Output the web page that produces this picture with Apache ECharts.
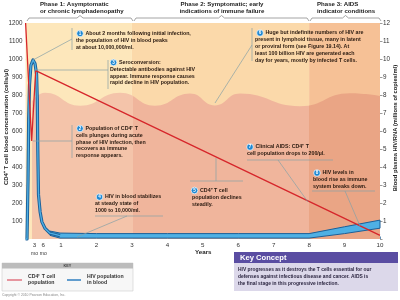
<!DOCTYPE html>
<html lang="en">
<head>
    <meta charset="utf-8">
    <title>HIV infection course</title>
    <script src="https://cdn.jsdelivr.net/npm/echarts/dist/echarts.min.js"></script>
    <style>
        html, body { margin: 0; padding: 0; background: #fff; }
        #chart { width: 400px; height: 300px; }
    </style>
</head>
<body>
<div id="chart"></div>
<script>
    // ---- data ----
    // CD4+ T cells (cells/µl), x in years
    var cd4Years = [0, 0.17, 0.285, 10];
    var cd4Count = [1200, 545, 935, 20];

    // HIV in blood (millions of copies/ml): upper and lower edge of the drawn band
    var hivYears = [0, 0.04, 0.068, 0.087, 0.11, 0.15, 0.21, 0.265, 0.31, 0.33, 0.344, 0.364, 0.41, 0.46, 0.55, 0.69, 0.97, 2, 4, 6, 8, 9, 10];
    var hivUpper = [0, 0, 3.3, 6.7, 8.6, 9.7, 10, 9.8, 9.2, 7.8, 5, 2.5, 1.55, 1.0, 0.67, 0.44, 0.33, 0.3, 0.3, 0.3, 0.3, 0.68, 1.05];
    var hivLower = [0, 0, 3.2, 6.6, 8.5, 9.6, 9.9, 9.7, 9.1, 7.7, 4.9, 2.4, 1.45, 0.9, 0.5, 0.2, 0.05, 0.05, 0.05, 0.05, 0.05, 0.3, 0.6];
    var humpEnd = 16;    // points up to here are the acute-phase peak

    // wavy lymphoid-tissue region (in cells/µl units of left axis)
    var waveYears = [0.18, 0.55, 1.54, 2.67, 3.65, 4.64, 5.34, 6.05, 7.74, 9.15, 10];
    var waveLevel = [765, 812, 740, 812, 740, 808, 742, 808, 738, 810, 795];

    var xTicks = [0.25, 0.5, 1, 2, 3, 4, 5, 6, 7, 8, 9, 10];
    var phases = [
        {from: 0, to: 3, upper: '#fde7bb'},
        {from: 3, to: 8, upper: '#fbd9aa'},
        {from: 8, to: 10, upper: '#f6c196'}
    ];

    function pairs(xs, ys) {
        return xs.map(function (x, i) { return [x, ys[i]]; });
    }

    var chart = echarts.init(document.getElementById('chart'));

    var ink = '#2a1a10';
    var lead = '#86a0a6';
    var fam = '"Liberation Sans", Arial, sans-serif';
    var fnt = 'bold 5.3px ' + fam;

    var notes = [
        {n: '1', bx: 80, by: 33.5, x0: 76, lines: ['About 2 months following initial infection,', 'the population of HIV in blood peaks', 'at about 10,000,000/ml.']},
        {n: '3', bx: 113.5, by: 62.5, x0: 110, lines: ['Seroconversion:', 'Detectable antibodies against HIV', 'appear. Immune response causes', 'rapid decline in HIV population.']},
        {n: '6', bx: 260, by: 33, x0: 255, lines: ['Huge but indefinite numbers of HIV are', 'present in lymphoid tissue, many in latent', 'or proviral form (see Figure 19.14). At', 'least 100 billion HIV are generated each', 'day for years, mostly by infected T cells.']},
        {n: '2', bx: 80, by: 128.5, x0: 76, lines: ['Population of CD4\u207A T', 'cells plunges during acute', 'phase of HIV infection, then', 'recovers as immune', 'response appears.']},
        {n: '4', bx: 99.5, by: 197, x0: 95, lines: ['HIV in blood stabilizes', 'at steady state of', '1000 to 10,000/ml.']},
        {n: '5', bx: 194.5, by: 190.5, x0: 192, lines: ['CD4\u207A T cell', 'population declines', 'steadily.']},
        {n: '7', bx: 250, by: 147, x0: 247, lines: ['Clinical AIDS: CD4\u207A T', 'cell population drops to 200/\u00B5l.']},
        {n: '8', bx: 317, by: 173, x0: 313, lines: ['HIV levels in', 'blood rise as immune', 'system breaks down.']}
    ];

    // leader / bracket lines of the notes
    var leaders = [
        [72, 28, 72, 50], [72, 39, 33, 60],
        [108, 60, 108, 89], [35, 70, 108, 70],
        [252, 28, 252, 61], [252, 45, 215, 103],
        [72, 125, 72, 158], [33, 141, 72, 141],
        [95, 216, 163, 216], [127, 216, 77, 237],
        [190, 181, 243, 181], [216, 158, 216, 181],
        [247, 160, 333, 160], [278, 160, 308, 202],
        [312, 191, 375, 191], [345, 191, 360, 226]
    ];

    var g = [];
    leaders.forEach(function (l) {
        g.push({type: 'line', z: 50, shape: {x1: l[0], y1: l[1], x2: l[2], y2: l[3]},
            style: {stroke: lead, lineWidth: 0.7}});
    });
    notes.forEach(function (nt) {
        g.push({type: 'circle', z: 52, shape: {cx: nt.bx, cy: nt.by, r: 3.3},
            style: {fill: '#1c87d2', stroke: '#fff', lineWidth: 0.7}});
        g.push({type: 'text', z: 53, style: {text: nt.n, x: nt.bx, y: nt.by + 0.2, fill: '#fff',
            font: 'bold 4.6px ' + fam, textAlign: 'center', textVerticalAlign: 'middle'}});
        nt.lines.forEach(function (t, i) {
            g.push({type: 'text', z: 52, style: {text: t, x: i === 0 ? nt.bx + 5.5 : nt.x0, y: nt.by + i * 6.8,
                fill: ink, font: fnt, textAlign: 'left', textVerticalAlign: 'middle'}});
        });
    });

    // phase headings and braces
    var heads = [
        {x: 40, align: 'left', lines: ['Phase 1: Asymptomatic', 'or chronic lymphadenopathy'], b: [27, 133]},
        {x: 222, align: 'center', lines: ['Phase 2: Symptomatic; early', 'indications of immune failure'], b: [134, 309]},
        {x: 317, align: 'left', lines: ['Phase 3: AIDS', 'indicator conditions'], b: [310, 381]}
    ];
    heads.forEach(function (h) {
        h.lines.forEach(function (t, i) {
            g.push({type: 'text', style: {text: t, x: h.x, y: 4.5 + i * 6.5, fill: '#222',
                font: 'bold 6.1px ' + fam, textAlign: h.align, textVerticalAlign: 'middle'}});
        });
        var a = h.b[0], b = h.b[1], m = (a + b) / 2;
        g.push({type: 'polyline', shape: {points: [[a, 21], [a + 2, 18], [m - 3, 18], [m, 15.5], [m + 3, 18], [b - 2, 18], [b, 21]]},
            style: {stroke: '#8d8d8d', lineWidth: 0.8, fill: null}});
    });

    // axis titles
    g.push({type: 'text', rotation: Math.PI / 2, x: 6, y: 127, style: {text: 'CD4\u207A T cell blood concentration (cells/\u00B5l)',
        fill: '#222', font: 'bold 6px ' + fam, textAlign: 'center', textVerticalAlign: 'middle'}});
    g.push({type: 'text', rotation: Math.PI / 2, x: 395, y: 128, style: {text: 'Blood plasma HIV/RNA (millions of copies/ml)',
        fill: '#222', font: 'bold 5.8px ' + fam, textAlign: 'center', textVerticalAlign: 'middle'}});
    g.push({type: 'text', style: {text: 'Years', x: 195, y: 252, fill: '#222',
        font: 'bold 6.2px ' + fam, textAlign: 'left', textVerticalAlign: 'middle'}});

    // key box
    g.push({type: 'rect', shape: {x: 2, y: 263, width: 131, height: 28}, style: {fill: '#f7f7f7', stroke: '#cfcfcf', lineWidth: 0.6}});
    g.push({type: 'rect', shape: {x: 2, y: 263, width: 131, height: 5.5}, style: {fill: '#bcbcbc'}});
    g.push({type: 'text', style: {text: 'KEY', x: 67.5, y: 266, fill: '#444', font: 'bold 3.8px ' + fam,
        textAlign: 'center', textVerticalAlign: 'middle'}});
    g.push({type: 'line', shape: {x1: 7, y1: 280, x2: 22, y2: 280}, style: {stroke: '#e07682', lineWidth: 1.5}});
    g.push({type: 'line', shape: {x1: 67, y1: 280, x2: 81, y2: 280}, style: {stroke: '#2f7fc1', lineWidth: 1.5}});
    [['CD4\u207A T cell', 28, 276.5], ['population', 28, 283], ['HIV population', 87, 276.5], ['in blood', 87, 283]].forEach(function (k) {
        g.push({type: 'text', style: {text: k[0], x: k[1], y: k[2], fill: '#333', font: 'bold 5.2px ' + fam,
            textAlign: 'left', textVerticalAlign: 'middle'}});
    });
    g.push({type: 'text', style: {text: 'Copyright \u00A9 2010 Pearson Education, Inc.', x: 2, y: 295.5, fill: '#888',
        font: '3.4px ' + fam, textAlign: 'left', textVerticalAlign: 'middle'}});

    // key concept box
    g.push({type: 'rect', shape: {x: 234, y: 263, width: 164, height: 28}, style: {fill: '#dcd8ea'}});
    g.push({type: 'rect', shape: {x: 234, y: 252, width: 164, height: 11}, style: {fill: '#5a4da2'}});
    g.push({type: 'text', style: {text: 'Key Concept', x: 240, y: 257.8, fill: '#fff', font: 'bold 7.6px ' + fam,
        textAlign: 'left', textVerticalAlign: 'middle'}});
    ['HIV progresses as it destroys the T cells essential for our', 'defenses against infectious disease and cancer. AIDS is',
        'the final stage in this progressive infection.'].forEach(function (t, i) {
        g.push({type: 'text', style: {text: t, x: 238, y: 270 + i * 6.7, fill: '#2b2540',
            font: 'bold 4.9px ' + fam, textAlign: 'left', textVerticalAlign: 'middle'}});
    });

    // HIV curve: cased line for the acute peak, filled band afterwards
    function renderHiv(params, api) {
        if (params.dataIndex > 0) return;
        var mid = [], top = [], bot = [];
        hivYears.forEach(function (x, i) {
            if (i <= humpEnd) mid.push(api.coord([x, (hivUpper[i] + hivLower[i]) / 2]));
            if (i >= humpEnd - 1) {
                top.push(api.coord([x, hivUpper[i]]));
                bot.push(api.coord([x, hivLower[i]]));
            }
        });
        var poly = top.concat(bot.slice().reverse());
        return {
            type: 'group',
            children: [
                {type: 'polygon', shape: {points: poly}, style: {fill: '#4fb0e4', stroke: '#1c5f98', lineWidth: 1}},
                {type: 'polyline', shape: {points: mid}, style: {stroke: '#1c5f98', lineWidth: 3.2, fill: null, lineJoin: 'round'}},
                {type: 'polyline', shape: {points: mid}, style: {stroke: '#4fb0e4', lineWidth: 1.3, fill: null, lineJoin: 'round'}}
            ]
        };
    }

    var option = {
        animation: false,
        grid: {left: 25.6, right: 20, top: 23, height: 216},
        xAxis: {
            type: 'value', min: 0, max: 10,
            axisLine: {show: false},
            splitLine: {show: false},
            axisTick: {show: true, inside: true, length: 2.5, lineStyle: {color: '#1f5e95', width: 0.7}, customValues: xTicks},
            axisLabel: {
                customValues: xTicks, color: '#333', fontSize: 6.2, margin: 3, lineHeight: 7.5, fontFamily: fam,
                formatter: function (v) {
                    if (v === 0.25) return '3\n{mo|mo}';
                    if (v === 0.5) return '6\n{mo|mo}';
                    return String(v);
                },
                rich: {mo: {fontSize: 5, fontFamily: fam, color: '#333'}}
            }
        },
        yAxis: [
            {
                type: 'value', min: 0, max: 1200, interval: 100,
                axisLine: {show: false}, splitLine: {show: false},
                axisTick: {show: true, inside: true, length: 3, lineStyle: {color: '#e8cfa8', width: 0.6}},
                axisLabel: {color: '#333', fontSize: 6.3, margin: 3, fontFamily: fam,
                    formatter: function (v) { return v === 0 ? '' : v; }}
            },
            {
                type: 'value', min: 0, max: 12, interval: 1, position: 'right',
                axisLine: {show: false}, splitLine: {show: false},
                axisTick: {show: true, length: 2.5, lineStyle: {color: '#555', width: 0.6}},
                axisLabel: {color: '#333', fontSize: 6.3, margin: 3, fontFamily: fam,
                    formatter: function (v) { return v === 0 ? '' : v; }}
            }
        ],
        series: [
            {
                name: 'phases', type: 'line', data: [], z: 0,
                markArea: {
                    silent: true,
                    data: phases.map(function (p) {
                        return [{xAxis: p.from, yAxis: 0, itemStyle: {color: p.upper}}, {xAxis: p.to, yAxis: 1200}];
                    })
                }
            },
            {
                name: 'lymphoid tissue', type: 'line', z: 1, smooth: 0.5, showSymbol: false, silent: true,
                data: pairs(waveYears, waveLevel),
                lineStyle: {width: 0},
                areaStyle: {
                    opacity: 1,
                    color: {
                        type: 'linear', x: 0, y: 0, x2: 400, y2: 0, global: true,
                        colorStops: [
                            {offset: 0, color: '#f4c4aa'}, {offset: 0.3325, color: '#f4c4aa'},
                            {offset: 0.3326, color: '#f0b59c'}, {offset: 0.7725, color: '#f0b59c'},
                            {offset: 0.7726, color: '#eaa585'}, {offset: 1, color: '#eaa585'}
                        ]
                    }
                }
            },
            {
                name: 'HIV population in blood', type: 'custom', yAxisIndex: 1, z: 3, silent: true,
                renderItem: renderHiv, data: pairs(hivYears, hivUpper)
            },
            {
                name: 'CD4+ T cell population', type: 'line', z: 4, showSymbol: false,
                data: pairs(cd4Years, cd4Count),
                lineStyle: {color: '#d6262b', width: 1.3}
            }
        ],
        graphic: g
    };
    chart.setOption(option);
</script>
</body>
</html>
